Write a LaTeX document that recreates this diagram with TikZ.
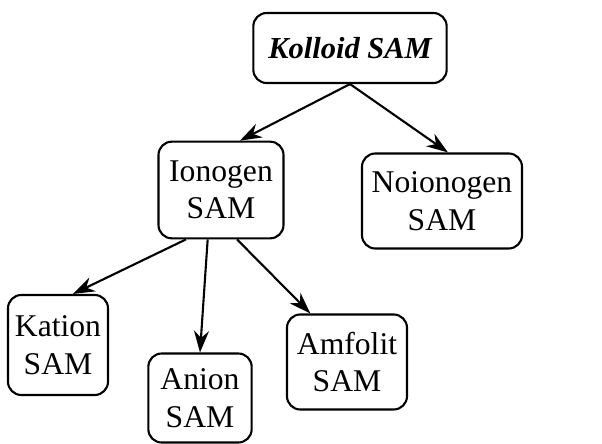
\documentclass[tikz,border=0pt]{standalone}
\usepackage{fontspec}
\setmainfont{Liberation Serif}
\usetikzlibrary{arrows.meta}

\begin{document}
\begin{tikzpicture}[x=0.03cm, y=-0.03cm,
    box/.style={rectangle, draw, rounded corners=0.4cm, line width=1.8pt, align=center, inner sep=0pt, font=\fontsize{27}{32}\selectfont},
    arrow/.style={-{Stealth[length=0.65cm, width=0.45cm]}, line width=1.8pt}
]
\useasboundingbox (0,0) rectangle (602,444);

% Top
\node[box, minimum width=5.8cm, minimum height=2.1cm, font=\fontsize{26}{31}\selectfont\bfseries\itshape] (kolloid) at (350,48) {Kolloid SAM};

% Second level
\node[box, minimum width=3.75cm, minimum height=2.9cm] (ionogen) at (221,190) {Ionogen\\SAM};
\node[box, minimum width=4.8cm, minimum height=2.85cm] (noionogen) at (442,201) {Noionogen\\SAM};

% Third level
\node[box, minimum width=3cm, minimum height=3cm] (kation) at (58,345) {Kation\\SAM};
\node[box, minimum width=3.1cm, minimum height=2.67cm] (anion) at (200,398) {Anion\\SAM};
\node[box, minimum width=3.6cm, minimum height=2.85cm] (amfolit) at (347,362) {Amfolit\\SAM};

% Arrows
\draw[arrow] (kolloid.south) -- ([xshift=0.57cm]ionogen.north);
\draw[arrow] (kolloid.south) -- ([xshift=0.18cm]noionogen.north);
\draw[arrow] ([xshift=-1.05cm]ionogen.south) -- ([xshift=0.45cm]kation.north);
\draw[arrow] ([xshift=-0.4cm]ionogen.south) -- (anion.north);
\draw[arrow] ([xshift=0.48cm]ionogen.south) -- ([xshift=-1.1cm]amfolit.north);

\end{tikzpicture}
\end{document}
